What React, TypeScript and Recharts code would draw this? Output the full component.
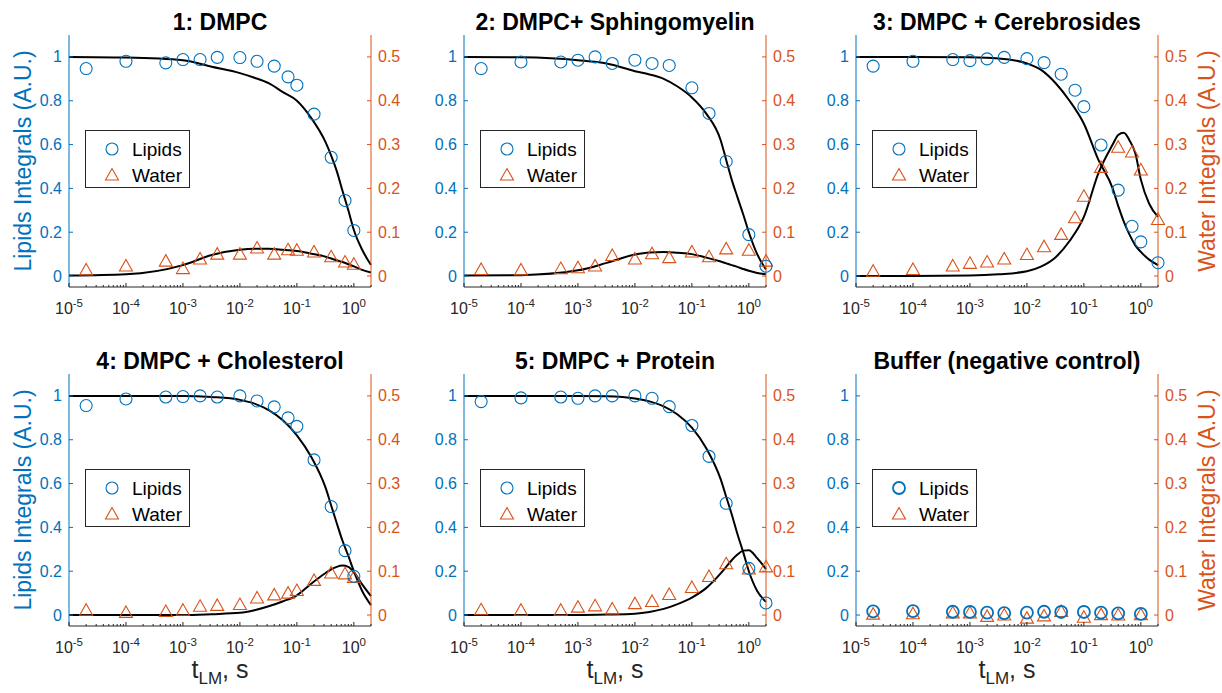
import React from 'react';
import { ComposedChart, Scatter, Line, XAxis, YAxis, Legend } from 'recharts';

const BLUE = '#0072BD';
const ORANGE = '#D95319';
const AXIS = '#262626';
const FONT = '"Liberation Sans", Arial, Helvetica, sans-serif';

const TITLES = [
  '1: DMPC',
  '2: DMPC+ Sphingomyelin',
  '3: DMPC + Cerebrosides',
  '4: DMPC + Cholesterol',
  '5: DMPC + Protein',
  'Buffer (negative control)',
];
const SERIES_NAMES = ['Lipids', 'Water'];
const LEFT_LABEL = 'Lipids Integrals (A.U.)';
const RIGHT_LABEL = 'Water Integrals (A.U.)';

// mixing times (s)
const T_ALL = [2e-5, 1e-4, 5e-4, 1e-3, 2e-3, 4e-3, 1e-2, 2e-2, 4e-2, 7e-2, 0.1, 0.2, 0.4, 0.7, 1, 2];
const T_NO2 = [2e-5, 1e-4, 5e-4, 1e-3, 2e-3, 4e-3, 1e-2, 2e-2, 4e-2, 7e-2, 0.1, 0.2, 0.4, 0.7, 1];
const T_SPARSE = [2e-5, 1e-4, 5e-4, 1e-3, 2e-3, 4e-3, 1e-2, 2e-2, 4e-2, 0.1, 0.2, 0.4, 1, 2];
const T_BUFFER = [2e-5, 1e-4, 5e-4, 1e-3, 2e-3, 4e-3, 1e-2, 2e-2, 4e-2, 0.1, 0.2, 0.4, 1];

// fit curve sample times
const FIT_T = [1e-5, 1e-4, 1e-3, 3.2e-3, 1e-2, 1.8e-2, 3.2e-2, 5.6e-2, 0.1, 0.18, 0.32, 0.4, 0.5, 0.63, 0.8, 1, 1.4, 2];

// 1: DMPC
const P1_LIPIDS = [0.947, 0.98, 0.973, 0.988, 0.988, 0.998, 0.997, 0.98, 0.958, 0.909, 0.871, 0.739, 0.542, 0.345, 0.208];
const P1_WATER = [0.014, 0.023, 0.034, 0.017, 0.039, 0.05, 0.05, 0.064, 0.05, 0.06, 0.059, 0.055, 0.044, 0.032, 0.027];
const P1_LIPID_FIT = [1.0, 0.997, 0.985, 0.955, 0.926, 0.905, 0.88, 0.84, 0.8, 0.72, 0.61, 0.55, 0.48, 0.39, 0.3, 0.21, 0.12, 0.05];
const P1_WATER_FIT = [0.001, 0.004, 0.025, 0.048, 0.06, 0.062, 0.062, 0.06, 0.057, 0.051, 0.044, 0.04, 0.036, 0.032, 0.027, 0.022, 0.014, 0.008];

// 2: DMPC + Sphingomyelin
const P2_LIPIDS = [0.947, 0.977, 0.977, 0.985, 1.0, 0.97, 0.985, 0.97, 0.961, 0.859, 0.742, 0.523, 0.189, 0.045];
const P2_WATER = [0.015, 0.014, 0.017, 0.019, 0.023, 0.047, 0.039, 0.051, 0.042, 0.055, 0.044, 0.062, 0.059, 0.034];
const P2_LIPID_FIT = [1.0, 0.998, 0.985, 0.97, 0.935, 0.92, 0.9, 0.865, 0.815, 0.74, 0.62, 0.53, 0.44, 0.36, 0.28, 0.2, 0.1, 0.03];
const P2_WATER_FIT = [0.001, 0.002, 0.013, 0.03, 0.049, 0.054, 0.055, 0.053, 0.05, 0.042, 0.033, 0.029, 0.025, 0.021, 0.016, 0.012, 0.007, 0.004];

// 3: DMPC + Cerebrosides
const P3_LIPIDS = [0.958, 0.98, 0.988, 0.983, 0.991, 0.998, 0.992, 0.974, 0.921, 0.848, 0.773, 0.598, 0.392, 0.227, 0.156, 0.061];
const P3_WATER = [0.011, 0.015, 0.023, 0.029, 0.032, 0.039, 0.049, 0.067, 0.095, 0.133, 0.182, 0.248, 0.294, 0.283, 0.242, 0.129];
const P3_LIPID_FIT = [1.0, 1.0, 0.998, 0.993, 0.97, 0.94, 0.88, 0.8, 0.695, 0.53, 0.4, 0.32, 0.25, 0.19, 0.14, 0.11, 0.075, 0.05];
const P3_WATER_FIT = [0.0, 0.0, 0.001, 0.004, 0.011, 0.022, 0.043, 0.08, 0.135, 0.235, 0.3, 0.322, 0.327, 0.31, 0.28, 0.22, 0.165, 0.135];

// 4: DMPC + Cholesterol
const P4_LIPIDS = [0.956, 0.986, 0.995, 0.997, 1.0, 0.995, 1.0, 0.977, 0.95, 0.9, 0.861, 0.708, 0.495, 0.294, 0.177];
const P4_WATER = [0.011, 0.006, 0.008, 0.011, 0.02, 0.022, 0.024, 0.039, 0.046, 0.05, 0.056, 0.079, 0.096, 0.094, 0.086];
const P4_LIPID_FIT = [1.0, 1.0, 1.0, 0.995, 0.982, 0.965, 0.935, 0.89, 0.82, 0.72, 0.58, 0.5, 0.42, 0.34, 0.27, 0.2, 0.11, 0.045];
const P4_WATER_FIT = [0.0, 0.0, 0.0, 0.002, 0.005, 0.011, 0.02, 0.031, 0.045, 0.072, 0.096, 0.104, 0.11, 0.113, 0.11, 0.098, 0.07, 0.043];

// 5: DMPC + Protein
const P5_LIPIDS = [0.974, 0.991, 0.995, 0.989, 1.0, 1.0, 1.0, 0.989, 0.951, 0.865, 0.724, 0.51, 0.213, 0.055];
const P5_WATER = [0.012, 0.011, 0.011, 0.018, 0.021, 0.014, 0.026, 0.031, 0.047, 0.063, 0.088, 0.117, 0.105, 0.11];
const P5_LIPID_FIT = [1.0, 1.0, 1.0, 0.998, 0.988, 0.975, 0.952, 0.915, 0.855, 0.76, 0.62, 0.54, 0.46, 0.37, 0.285, 0.2, 0.11, 0.06];
const P5_WATER_FIT = [0.0, 0.0, 0.0, 0.001, 0.003, 0.007, 0.014, 0.025, 0.04, 0.062, 0.095, 0.11, 0.125, 0.138, 0.147, 0.148, 0.13, 0.105];

// Buffer
const P6_LIPIDS = [0.017, 0.018, 0.015, 0.014, 0.011, 0.009, 0.011, 0.015, 0.014, 0.014, 0.011, 0.008, 0.005];
const P6_WATER = [0.002, 0.003, 0.005, 0.005, -0.003, 0.0, -0.007, -0.002, 0.008, -0.005, 0.001, 0.0, 0.001];

const LEFT_TICKS = [0, 0.2, 0.4, 0.6, 0.8, 1];
const RIGHT_TICKS = [0, 0.1, 0.2, 0.3, 0.4, 0.5];
const DECADES = [-5, -4, -3, -2, -1];
const X_TICKS = [
  ...DECADES.flatMap(d => [1, 2, 3, 4, 5, 6, 7, 8, 9].map(m => m * Math.pow(10, d))),
  1, 2,
];

const pts = (xs: number[], ys: number[]) => xs.map((x, i) => ({ x, y: ys[i] }));

const PLOT_W = 302;
const PLOT_H = 252;
const ML = 60;
const MR = 60;
const MT = 35;
const MB = 34;

const PANELS = [
  { left: 69, top: 35, lipid: pts(T_NO2, P1_LIPIDS), water: pts(T_NO2, P1_WATER), lipidFit: pts(FIT_T, P1_LIPID_FIT), waterFit: pts(FIT_T, P1_WATER_FIT) },
  { left: 464, top: 35, lipid: pts(T_SPARSE, P2_LIPIDS), water: pts(T_SPARSE, P2_WATER), lipidFit: pts(FIT_T, P2_LIPID_FIT), waterFit: pts(FIT_T, P2_WATER_FIT) },
  { left: 856, top: 35, lipid: pts(T_ALL, P3_LIPIDS), water: pts(T_ALL, P3_WATER), lipidFit: pts(FIT_T, P3_LIPID_FIT), waterFit: pts(FIT_T, P3_WATER_FIT) },
  { left: 69, top: 374, lipid: pts(T_NO2, P4_LIPIDS), water: pts(T_NO2, P4_WATER), lipidFit: pts(FIT_T, P4_LIPID_FIT), waterFit: pts(FIT_T, P4_WATER_FIT) },
  { left: 464, top: 374, lipid: pts(T_SPARSE, P5_LIPIDS), water: pts(T_SPARSE, P5_WATER), lipidFit: pts(FIT_T, P5_LIPID_FIT), waterFit: pts(FIT_T, P5_WATER_FIT) },
  { left: 856, top: 374, lipid: pts(T_BUFFER, P6_LIPIDS), water: pts(T_BUFFER, P6_WATER), lipidFit: null, waterFit: null },
];

const isMajor = (v: number) => {
  const e = Math.log10(v);
  return Math.abs(e - Math.round(e)) < 1e-6;
};

const BottomTick = (props: any) => {
  const { x, y, payload } = props;
  const major = isMajor(payload.value);
  const exp = Math.round(Math.log10(payload.value));
  return (
    <g>
      <line x1={x} x2={x} y1={y} y2={y - (major ? 4 : 2)} stroke={AXIS} strokeWidth={1} />
      {major && (
        <text x={x} y={y + 27} textAnchor="middle" fontSize={16} fill={AXIS} fontFamily={FONT}>
          10<tspan dy={-7} fontSize={11.5}>{String(exp)}</tspan>
        </text>
      )}
    </g>
  );
};

const TopTick = (props: any) => {
  const { x, y, payload } = props;
  const major = isMajor(payload.value);
  return <line x1={x} x2={x} y1={y} y2={y + (major ? 4 : 2)} stroke={AXIS} strokeWidth={1} />;
};

const LeftTick = (props: any) => {
  const { x, y, payload } = props;
  return (
    <g>
      <line x1={x} x2={x + 4} y1={y} y2={y} stroke={BLUE} strokeWidth={1} />
      <text x={x - 7} y={y + 5.5} textAnchor="end" fontSize={16} fill={BLUE} fontFamily={FONT}>{String(payload.value)}</text>
    </g>
  );
};

const RightTick = (props: any) => {
  const { x, y, payload } = props;
  return (
    <g>
      <line x1={x} x2={x - 4} y1={y} y2={y} stroke={ORANGE} strokeWidth={1} />
      <text x={x + 7} y={y + 5.5} textAnchor="start" fontSize={16} fill={ORANGE} fontFamily={FONT}>{String(payload.value)}</text>
    </g>
  );
};

const circleShape = (w: number) => (props: any) => (
  <circle cx={props.cx} cy={props.cy} r={6} fill="none" stroke={BLUE} strokeWidth={w} />
);

const triPath = (cx: number, cy: number) =>
  `M${cx},${cy - 6.5} L${cx + 6.5},${cy + 5} L${cx - 6.5},${cy + 5} Z`;

const triangleShape = (props: any) => (
  <path d={triPath(props.cx, props.cy)} fill="none" stroke={ORANGE} strokeWidth={1.1} />
);

const LegendBox = ({ bold }: { bold: boolean }) => (
  <div style={{ width: 105, height: 58, boxSizing: 'border-box', border: `1px solid ${AXIS}`, background: '#fff', position: 'relative', fontFamily: FONT, fontSize: 19, color: '#000' }}>
    <svg width={105} height={58} style={{ position: 'absolute', left: 0, top: 0 }}>
      <circle cx={26} cy={18} r={6} fill="none" stroke={BLUE} strokeWidth={bold ? 1.8 : 1.1} />
      <path d={triPath(26, 44)} fill="none" stroke={ORANGE} strokeWidth={1.1} />
      <text x={46} y={25} fontSize={19} fontFamily={FONT} fill="#000">{SERIES_NAMES[0]}</text>
      <text x={46} y={51} fontSize={19} fontFamily={FONT} fill="#000">{SERIES_NAMES[1]}</text>
    </svg>
  </div>
);

const Panel = ({ idx }: { idx: number }) => {
  const p = PANELS[idx];
  const bold = p.lipidFit === null;
  return (
    <div style={{ position: 'absolute', left: p.left - ML, top: p.top - MT }}>
      <ComposedChart width={ML + PLOT_W + MR} height={MT + PLOT_H + MB} margin={{ top: MT, right: 0, bottom: 0, left: 0 }}>
        <XAxis xAxisId="b" dataKey="x" type="number" scale="log" domain={[1e-5, 2]} ticks={X_TICKS} interval={0}
          height={MB} tickSize={0} tickMargin={0} tickLine={false} axisLine={{ stroke: AXIS }} tick={<BottomTick />} />
        <XAxis xAxisId="t" dataKey="x" orientation="top" type="number" scale="log" domain={[1e-5, 2]} ticks={X_TICKS} interval={0}
          height={0} tickSize={0} tickMargin={0} tickLine={false} axisLine={{ stroke: AXIS }} tick={<TopTick />} />
        <YAxis yAxisId="left" type="number" domain={[-0.05, 1.1]} ticks={LEFT_TICKS} interval={0} width={ML}
          tickSize={0} tickMargin={0} tickLine={false} axisLine={{ stroke: BLUE }} tick={<LeftTick />} />
        <YAxis yAxisId="right" orientation="right" type="number" domain={[-0.025, 0.55]} ticks={RIGHT_TICKS} interval={0} width={MR}
          tickSize={0} tickMargin={0} tickLine={false} axisLine={{ stroke: ORANGE }} tick={<RightTick />} />
        {p.lipidFit && (
          <Line data={p.lipidFit} dataKey="y" xAxisId="b" yAxisId="left" type="monotone" stroke="#000" strokeWidth={2}
            dot={false} activeDot={false} isAnimationActive={false} />
        )}
        {p.waterFit && (
          <Line data={p.waterFit} dataKey="y" xAxisId="b" yAxisId="right" type="monotone" stroke="#000" strokeWidth={2}
            dot={false} activeDot={false} isAnimationActive={false} />
        )}
        <Scatter name={SERIES_NAMES[1]} data={p.water} dataKey="y" xAxisId="b" yAxisId="right" shape={triangleShape} isAnimationActive={false} />
        <Scatter name={SERIES_NAMES[0]} data={p.lipid} dataKey="y" xAxisId="b" yAxisId="left" shape={circleShape(bold ? 1.8 : 1.1)} isAnimationActive={false} />
        <Legend layout="vertical" align="center" verticalAlign="middle"
          wrapperStyle={{ left: ML + 16, top: MT + 95, width: 105, height: 58 }}
          content={() => <LegendBox bold={bold} />} />
      </ComposedChart>
    </div>
  );
};

export default function App() {
  return (
    <div style={{ position: 'absolute', left: 0, top: 0, width: 1222, height: 693, background: '#fff', overflow: 'hidden', fontFamily: FONT }}>
      {PANELS.map((_, i) => <Panel key={i} idx={i} />)}
      <svg width={1222} height={693} style={{ position: 'absolute', left: 0, top: 0, pointerEvents: 'none' }}>
        {PANELS.map((p, i) => (
          <text key={'t' + i} x={p.left + PLOT_W / 2} y={p.top - 5} textAnchor="middle" fontSize={23} fontWeight="bold" fontFamily={FONT} fill="#000">
            {TITLES[i]}
          </text>
        ))}
        {[0, 3].map(i => (
          <text key={'l' + i} transform={`translate(23, ${PANELS[i].top + PLOT_H / 2}) rotate(-90)`} textAnchor="middle" dy={8}
            fontSize={23} fontFamily={FONT} fill={BLUE}>{LEFT_LABEL}</text>
        ))}
        {[2, 5].map(i => (
          <text key={'r' + i} transform={`translate(1207, ${PANELS[i].top + PLOT_H / 2}) rotate(-90)`} textAnchor="middle" dy={8}
            fontSize={23} fontFamily={FONT} fill={ORANGE}>{RIGHT_LABEL}</text>
        ))}
        {[3, 4, 5].map(i => (
          <text key={'x' + i} x={PANELS[i].left + PLOT_W / 2} y={678} textAnchor="middle" fontSize={25} fontFamily={FONT} fill={AXIS}>
            t<tspan fontSize={17} dy={6}>LM</tspan><tspan fontSize={25} dy={-6}>, s</tspan>
          </text>
        ))}
      </svg>
    </div>
  );
}
